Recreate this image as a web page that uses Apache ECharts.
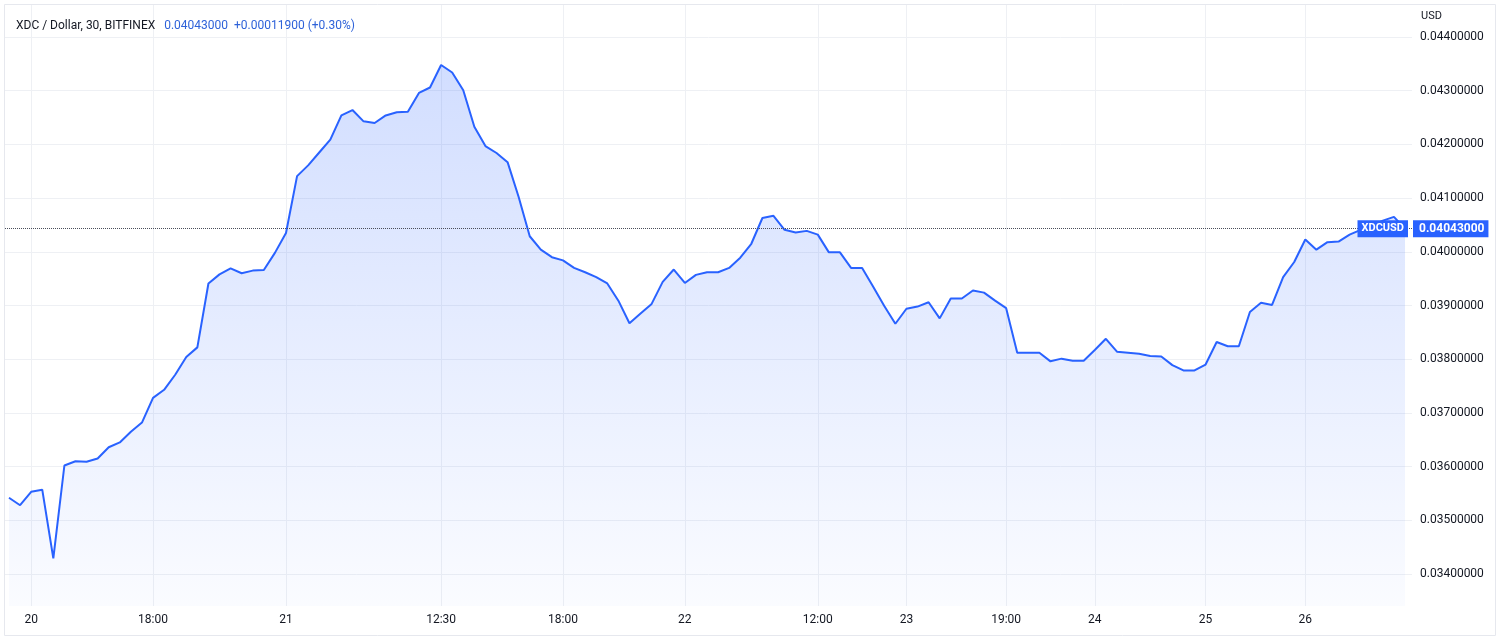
<!DOCTYPE html>
<html><head><meta charset="utf-8">
<script src="https://cdn.jsdelivr.net/npm/echarts@6/dist/echarts.min.js"></script>
<style>html,body{margin:0;padding:0;background:#fff}#c{width:1500px;height:641px}</style>
</head><body><div id="c"></div>
<script>
// ---- data ----
const prices = [
  0.03542,0.03528,0.03553,0.03557,0.03429,0.03602,0.03610,0.03609,0.03615,0.03636,
  0.03645,0.03665,0.03682,0.03728,0.03743,0.03771,0.03804,0.03822,0.03941,0.03958,
  0.03969,0.03960,0.03965,0.03966,0.03998,0.04035,0.04141,0.04161,0.04185,0.04209,
  0.04254,0.04264,0.04243,0.04240,0.04254,0.04260,0.04261,0.04296,0.04306,0.04348,
  0.04334,0.04301,0.04233,0.04197,0.04184,0.04167,0.04102,0.04029,0.04004,0.03990,
  0.03984,0.03970,0.03962,0.03953,0.03941,0.03909,0.03867,0.03885,0.03903,0.03944,
  0.03967,0.03942,0.03957,0.03962,0.03962,0.03970,0.03989,0.04015,0.04063,0.04067,
  0.04041,0.04036,0.04039,0.04032,0.03999,0.03999,0.03970,0.03970,0.03935,0.03899,
  0.03866,0.03894,0.03898,0.03906,0.03876,0.03913,0.03913,0.03928,0.03924,0.03909,
  0.03895,0.03812,0.03812,0.03812,0.03796,0.03801,0.03797,0.03797,0.03817,0.03838,
  0.03814,0.03812,0.03810,0.03806,0.03805,0.03789,0.03779,0.03779,0.03790,0.03832,
  0.03824,0.03824,0.03888,0.03905,0.03901,0.03953,0.03981,0.04023,0.04004,0.04018,
  0.04019,0.04032,0.04041,0.04049,0.04058,0.04065,0.04043
];
const xTickIndex = [2,13,25,39,50,61,73,81,90,98,108,117];
const xTickLabels = ['20','18:00','21','12:30','18:00','22','12:00','23','19:00','24','25','26'];
const yTicks = [0.034,0.035,0.036,0.037,0.038,0.039,0.040,0.041,0.042,0.043,0.044];
const lastPrice = 0.04043;
const symbolName = 'XDCUSD';
const titleMain = 'XDC / Dollar, 30, BITFINEX';
const titleQuote = '0.04043000  +0.00011900 (+0.30%)';
const priceUnit = 'USD';

const FONT = 'Roboto, "Noto Sans", sans-serif';
const chart = echarts.init(document.getElementById('c'), null, {renderer:'canvas'});
chart.setOption({
  animation: false,
  backgroundColor: '#ffffff',
  textStyle: {fontFamily: FONT},
  title: {
    left: 11, top: 12,
    text: '{a|' + titleMain + '}  {b|' + titleQuote + '}',
    textStyle: {
      fontWeight: 'normal',
      rich: {
        a: {color: '#131722', fontSize: 12, fontFamily: FONT, fontWeight: 'normal', lineHeight: 14},
        b: {color: '#2e62d9', fontSize: 12, fontFamily: FONT, fontWeight: 'normal', lineHeight: 14}
      }
    }
  },
  graphic: [
    {type: 'rect', silent: true, z: -10, shape: {x: 4.5, y: 4.5, width: 1491, height: 631},
     style: {fill: 'none', stroke: '#e6e8ee', lineWidth: 1}},
    {type: 'text', left: 1421, top: 11, silent: true,
     style: {text: priceUnit, fill: '#131722', font: '11px ' + FONT}}
  ],
  grid: {left: 5, right: 88, top: 5, bottom: 35, containLabel: false},
  xAxis: {
    type: 'value', min: -0.361, max: 126.63,
    axisLine: {show: false},
    axisTick: {show: false, customValues: xTickIndex},
    axisLabel: {
      customValues: xTickIndex, color: '#131722', fontSize: 12, margin: 8,
      formatter: v => xTickLabels[xTickIndex.indexOf(Math.round(v))]
    },
    splitLine: {show: true, lineStyle: {color: '#eef0f4', width: 1}}
  },
  yAxis: {
    type: 'value', position: 'right', min: 0.033403, max: 0.044597,
    axisLine: {show: false},
    axisTick: {show: false, customValues: yTicks},
    axisLabel: {customValues: yTicks, color: '#131722', fontSize: 12, margin: 8,
      formatter: v => v.toFixed(8)},
    splitLine: {show: true, lineStyle: {color: '#eef0f4', width: 1}}
  },
  series: [{
    type: 'line',
    data: prices.map((v, i) => [i, v]),
    symbol: 'none',
    lineStyle: {color: '#2962FF', width: 2},
    areaStyle: {
      origin: 'start',
      color: new echarts.graphic.LinearGradient(0, 0, 0, 1, [
        {offset: 0, color: 'rgba(41,98,255,0.30)'},
        {offset: 1, color: 'rgba(41,98,255,0.03)'}
      ])
    },
    markLine: {
      silent: true,
      precision: 8,
      symbol: ['none', 'none'],
      lineStyle: {type: 'dotted', color: '#4a4e5a', width: 1},
      data: [
        {yAxis: lastPrice, label: {
          show: true, position: 'insideEndTop', distance: [4, -8.5],
          formatter: symbolName, color: '#fff', fontWeight: 'bold', fontSize: 11,
          backgroundColor: '#2962FF', padding: [2, 4, 2, 4], lineHeight: 13, fontFamily: FONT}},
        {yAxis: lastPrice, label: {
          show: true, position: 'end', distance: 1,
          formatter: lastPrice.toFixed(8), color: '#fff', fontWeight: 'bold', fontSize: 12,
          backgroundColor: '#2962FF', padding: [2, 4, 2, 6], lineHeight: 13, fontFamily: FONT}}
      ]
    }
  }]
});
</script></body></html>
